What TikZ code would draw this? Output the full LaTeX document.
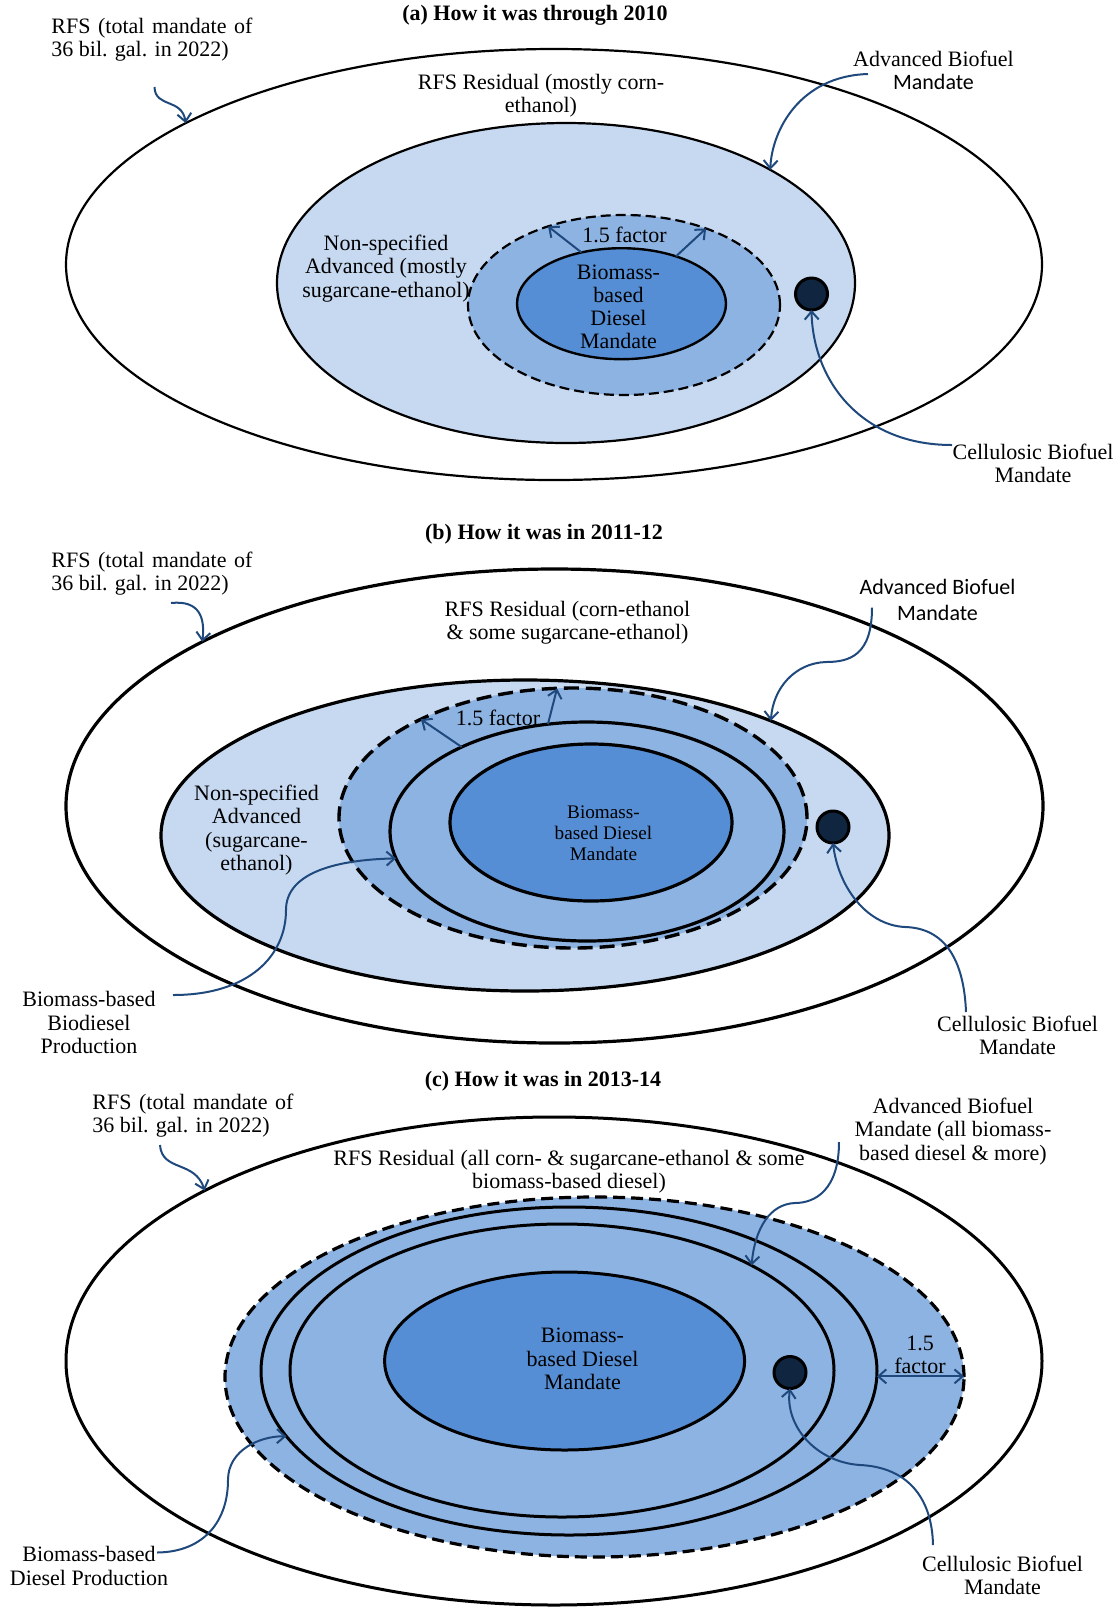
\documentclass[tikz,border=0pt]{standalone}
\usepackage{fontspec}
\setmainfont{Liberation Serif}
\newfontfamily\carlitofont{Carlito}
\usetikzlibrary{shapes.geometric,arrows.meta,calc}
\definecolor{lightb}{HTML}{C6D9F1}
\definecolor{medb}{HTML}{8DB3E2}
\definecolor{darkb}{HTML}{558ED5}
\definecolor{dotb}{HTML}{10253F}
\definecolor{arrb}{HTML}{1F497D}
\begin{document}
\begin{tikzpicture}[x=0.5pt,y=-0.5pt,
  ell/.style={ellipse, inner sep=0pt, outer sep=0pt, draw=black},
  lbl/.style={align=center, inner sep=0pt, font=\fontsize{11}{11.6}\selectfont},
  ttl/.style={inner sep=0pt, font=\fontsize{11}{12}\selectfont\bfseries},
  arr/.style={draw=arrb, line width=1pt, -{Straight Barb[length=4pt,width=7pt]}},
  dbl/.style={draw=arrb, line width=1pt, {Straight Barb[length=4pt,width=7pt]}-{Straight Barb[length=4pt,width=7pt]}},
  cdot/.style={circle, draw=black, fill=dotb, line width=1.5pt, minimum size=16pt, inner sep=0pt, outer sep=0pt}]
\useasboundingbox (0,0) rectangle (1116,1608);

%%%%%%%%%%%%%%%% (a)
\node[ell, line width=1.1pt, fill=white, minimum width=488pt, minimum height=215.5pt] (outA) at (554,264.5) {};
\node[ell, line width=1.1pt, fill=lightb, minimum width=289pt, minimum height=160pt] (lightA) at (566,283) {};
\node[ell, line width=1.1pt, fill=medb, dash pattern=on 5pt off 2.5pt, minimum width=156pt, minimum height=90pt] (dashA) at (624,305) {};
\node[ell, line width=1.2pt, fill=darkb, minimum width=104.5pt, minimum height=55.5pt] (innerA) at (621.5,303.7) {};
\node[cdot] (dotA) at (811.5,294) {};

\node[ttl] (ttlA) at (535,15) {(a) How it was through 2010};
\node[lbl, align=left, anchor=west] (rfsA) at (51,40) {\makebox[100.5pt][s]{RFS (total mandate of}\\36 bil. gal. in 2022)};
\node[lbl] (resA) at (541,95.5) {RFS Residual (mostly corn-\\ethanol)};
\node[lbl] (advA) at (933.5,70.5) {Advanced Biofuel\\{\carlitofont Mandate}};
\node[lbl] (nonA) at (386,268.5) {Non-specified\\Advanced (mostly\\sugarcane-ethanol)};
\node[lbl] (facA) at (624.5,235) {1.5 factor};
\node[lbl] (bioA) at (618.5,307) {Biomass-\\based\\Diesel\\Mandate};
\node[lbl] (celA) at (1033,463) {Cellulosic Biofuel\\Mandate};

\coordinate (sRa) at (154.5,87);
\coordinate (sAa) at (868,74);
\coordinate (sCa) at (952,445);
\draw[arr] (sRa) .. controls (155,108) and (182,98) .. (outA.159);
\draw[arr] (sAa) .. controls (800,76) and (772,130) .. (lightA.29);
\draw[arr] (sCa) .. controls (860,445) and (813,380) .. (dotA.south);
\draw[arr] (innerA.128) -- (dashA.134);
\draw[arr] (innerA.41) -- (dashA.43);

%%%%%%%%%%%%%%%% (b)
\node[ell, line width=1.6pt, fill=white, minimum width=488.5pt, minimum height=237pt] (outB) at (554.5,806) {};
\node[ell, line width=1.6pt, fill=lightb, minimum width=364pt, minimum height=155.5pt] (lightB) at (525,835.5) {};
\node[ell, line width=1.7pt, fill=medb, dash pattern=on 7.5pt off 3.5pt, minimum width=234pt, minimum height=130pt] (dashB) at (573,818) {};
\node[ell, line width=1.6pt, fill=medb, minimum width=197pt, minimum height=109.5pt] (midB) at (587,831.5) {};
\node[ell, line width=1.6pt, fill=darkb, minimum width=141pt, minimum height=78.5pt] (innerB) at (591,822.5) {};
\node[cdot] (dotB) at (833,827) {};

\node[ttl] (ttlB) at (544,534) {(b) How it was in 2011-12};
\node[lbl, align=left, anchor=west] (rfsB) at (51,574) {\makebox[100.5pt][s]{RFS (total mandate of}\\36 bil. gal. in 2022)};
\node[lbl] (resB) at (567.5,623) {RFS Residual (corn-ethanol\\\& some sugarcane-ethanol)};
\node[lbl, font=\fontsize{11}{12.7}\selectfont\carlitofont] (advB) at (937.5,600) {Advanced Biofuel\\Mandate};
\node[lbl] (facB) at (498,718) {1.5 factor};
\node[lbl] (nonB) at (256.5,830) {Non-specified\\Advanced\\(sugarcane-\\ethanol)};
\node[lbl, font=\fontsize{9.6}{10.4}\selectfont] (bioB) at (603.5,833.5) {Biomass-\\based Diesel\\Mandate};
\node[lbl] (prodB) at (89,1022.5) {Biomass-based\\Biodiesel\\Production};
\node[lbl] (celB) at (1017.5,1035.6) {Cellulosic Biofuel\\Mandate};

\coordinate (sRb) at (171,603);
\coordinate (sAb) at (872,607.6);
\coordinate (sCb) at (966,1012);
\coordinate (sPb) at (173,995);
\draw[arr] (sRb) .. controls (200,600) and (205,618) .. (outB.155);
\draw[arr] (sAb) .. controls (872,655) and (850,662) .. (826,662) .. controls (795,663) and (773,688) .. (lightB.25);
\draw[arr] (sCb) .. controls (964,960) and (945,928) .. (905,927) .. controls (865,925) and (838,885) .. (dotB.south);
\draw[arr] (sPb) .. controls (250,995) and (286,955) .. (286,910) .. controls (286,875) and (330,860) .. (midB.188);
\draw[arr] (midB.146) -- (dashB.147);
\draw[arr] (midB.110) -- (dashB.97);

%%%%%%%%%%%%%%%% (c)
\node[ell, line width=1.5pt, fill=white, minimum width=488pt, minimum height=244pt] (outC) at (554,1361) {};
\node[ell, line width=1.6pt, fill=medb, dash pattern=on 6pt off 3pt, minimum width=369.5pt, minimum height=180pt] (dashC) at (594.5,1377) {};
\node[ell, line width=1.5pt, fill=medb, minimum width=308pt, minimum height=164pt] (e2C) at (569,1371) {};
\node[ell, line width=1.5pt, fill=medb, minimum width=272pt, minimum height=146.5pt] (e3C) at (562,1370.5) {};
\node[ell, line width=1.5pt, fill=darkb, minimum width=180pt, minimum height=89pt] (innerC) at (564.6,1361) {};
\node[cdot] (dotC) at (790,1372.5) {};

\node[ttl] (ttlC) at (543,1081.5) {(c) How it was in 2013-14};
\node[lbl, align=left, anchor=west] (rfsC) at (92,1116) {\makebox[100.5pt][s]{RFS (total mandate of}\\36 bil. gal. in 2022)};
\node[lbl] (resC) at (569,1171.5) {RFS Residual (all corn- \& sugarcane-ethanol \& some\\biomass-based diesel)};
\node[lbl] (advC) at (953,1131.5) {Advanced Biofuel\\Mandate (all biomass-\\based diesel \& more)};
\node[lbl] (bioC) at (582.5,1359) {Biomass-\\based Diesel\\Mandate};
\node[lbl] (facC) at (920,1355) {1.5\\factor};
\node[lbl] (prodC) at (89,1566) {Biomass-based\\Diesel Production};
\node[lbl] (celC) at (1002.5,1575) {Cellulosic Biofuel\\Mandate};

\coordinate (sRc) at (160,1145);
\coordinate (sAc) at (839,1142);
\coordinate (sCc) at (933,1545);
\coordinate (sPc) at (157,1552.5);
\draw[arr] (sRc) .. controls (162,1172) and (195,1160) .. (outC.154.5);
\draw[arr] (sAc) .. controls (839,1190) and (815,1203) .. (795,1203) .. controls (770,1204) and (755,1228) .. (e3C.29);
\draw[arr] (sCc) .. controls (932,1495) and (905,1467) .. (860,1465) .. controls (815,1462) and (785,1425) .. (dotC.south);
\draw[arr] (sPc) .. controls (205,1552) and (228,1520) .. (228,1480) .. controls (228,1450) and (260,1436) .. (e2C.193);
\draw[dbl] (e2C.-1.5) -- (e2C.-1.5 -| dashC.east);
\end{tikzpicture}
\end{document}
